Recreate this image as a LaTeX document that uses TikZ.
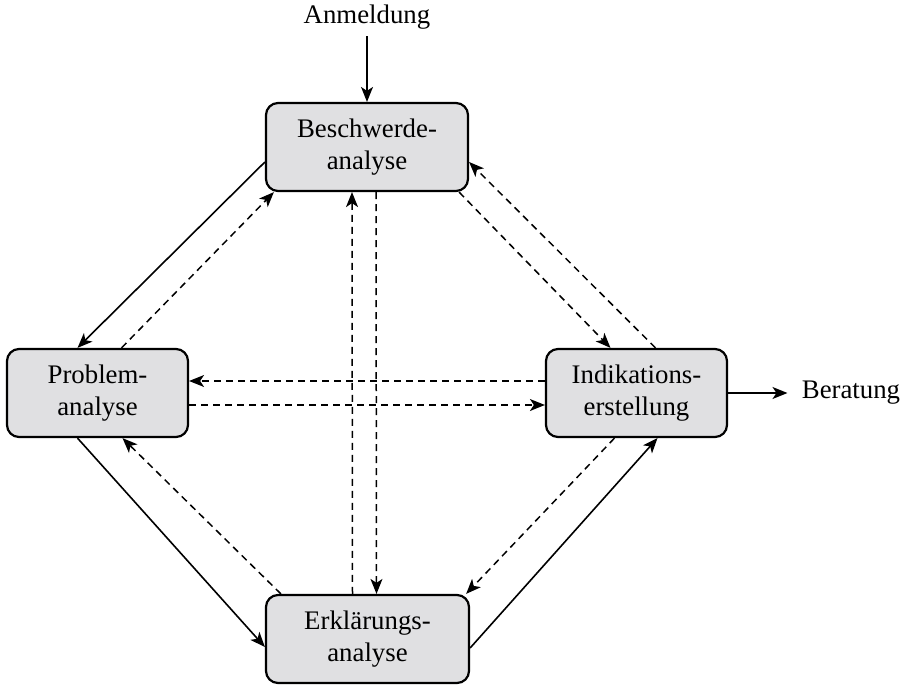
\documentclass[tikz,border=0pt]{standalone}
\usepackage{fontspec}
\setmainfont{Liberation Serif}
\usetikzlibrary{arrows.meta}
\definecolor{boxgray}{RGB}{224,224,226}
\begin{document}
\begin{tikzpicture}[
		    x=0.5pt, y=-0.5pt,
		    font=\fontsize{13.4}{16}\selectfont,
		    >={Stealth[length=7.5pt,width=6pt,inset=2pt]},
		    box/.style={draw,line width=1.1pt,rounded corners=6pt,fill=boxgray,
		        align=center,minimum height=44pt,inner sep=0pt},
		    link/.style={->,line width=0.8pt},
		    back/.style={->,line width=0.75pt,dash pattern=on 3.5pt off 2.5pt}]
			\useasboundingbox (0,0) rectangle (911,686);
			% boxes
			\node [box,minimum width=101pt] (b) at (367,147) {Beschwerde-\\analyse};
			\node [box,minimum width=90.5pt] (p) at (97.5,393) {Problem-\\analyse};
			\node [box,minimum width=90.5pt] (i) at (636.5,393) {Indikations-\\erstellung};
			\node [box,minimum width=101.5pt] (e) at (367.5,639) {Erklärungs-\\analyse};
			\node (an) at (367,17) {Anmeldung};
			\node [inner sep=0pt] (be) at (851,393) {Beratung};
			% in and out
			\draw [link] (an) -- (b.north);
			\draw [link] (i.east) -- ([xshift=-7pt]be.west);
			% solid ring
			\draw [link] ([yshift=-7.5pt]b.west) -- ([xshift=-10pt]p.north);
			\draw [link] ([xshift=-10pt]p.south) -- ([yshift=-4pt]e.west);
			\draw [link] ([yshift=-4.5pt]e.east) -- ([xshift=10.5pt]i.south);
			% dashed returns
			\draw [back] ([xshift=12pt]p.north) -- ([xshift=4.5pt]b.south west);
			\draw [back] ([xshift=-5pt]b.south east) -- ([xshift=-13pt]i.north);
			\draw [back] ([xshift=9.5pt]i.north) -- ([yshift=-7.5pt]b.east);
			\draw [back] ([yshift=6pt]i.west) -- ([yshift=6pt]p.east);
			\draw [back] ([yshift=-6pt]p.east) -- ([yshift=-6pt]i.west);
			\draw [back] ([xshift=-7.5pt]e.north) -- ([xshift=-7.5pt]b.south);
			\draw [back] ([xshift=4.5pt]b.south) -- ([xshift=4.5pt]e.north);
			\draw [back] ([xshift=8pt]e.north west) -- ([xshift=12.5pt]p.south);
			\draw [back] ([xshift=-11pt]i.south) -- ([xshift=-2pt]e.north east);
\end{tikzpicture}
\end{document}
